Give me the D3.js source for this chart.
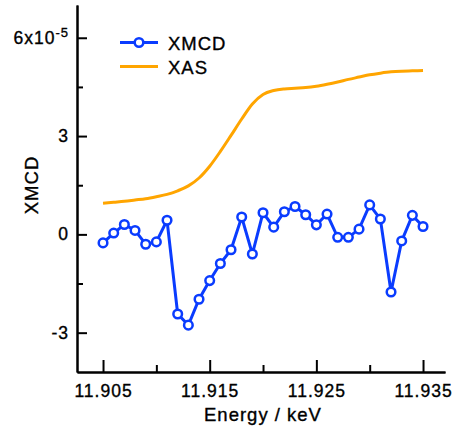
<!DOCTYPE html>
<html>
<head>
<meta charset="utf-8">
<script src="https://cdn.jsdelivr.net/npm/d3@7"></script>
<style>
  body { margin: 0; background: #fff; }
  #chart { width: 459px; height: 430px; }
  text { font-family: "Liberation Sans", Arial, sans-serif; fill: #000; stroke: #000; stroke-width: 0.35px; letter-spacing: 1px; }
</style>
</head>
<body>
<div id="chart"></div>
<script>
//Datos (XMCD en unidades de 1e-5)
const energy = [11.905, 11.906, 11.907, 11.908, 11.909, 11.910, 11.911, 11.912, 11.913, 11.914,
  11.915, 11.916, 11.917, 11.918, 11.919, 11.920, 11.921, 11.922, 11.923, 11.924,
  11.925, 11.926, 11.927, 11.928, 11.929, 11.930, 11.931, 11.932, 11.933, 11.934, 11.935];
const xmcd = [-0.26, 0.04, 0.30, 0.12, -0.30, -0.23, 0.43, -2.43, -2.77, -1.98,
  -1.41, -0.89, -0.47, 0.53, -0.60, 0.66, 0.22, 0.69, 0.85, 0.60,
  0.29, 0.62, -0.09, -0.09, 0.16, 0.90, 0.47, -1.76, -0.20, 0.58, 0.24];
const xas = [0.95, 0.98, 1.01, 1.05, 1.09, 1.15, 1.22, 1.33, 1.48, 1.72,
  2.08, 2.53, 3.02, 3.52, 3.98, 4.27, 4.39, 4.44, 4.46, 4.48,
  4.52, 4.58, 4.65, 4.73, 4.80, 4.87, 4.92, 4.96, 4.98, 4.99, 5.00];
const yTicks = [-3, 0, 3, 6];
const yMinorTicks = [-1.5, 1.5, 4.5];
const xTicks = [11.905, 11.915, 11.925, 11.935];
const xMinorTicks = [11.910, 11.920, 11.930];

const COLOR_XMCD = '#0a3cff', COLOR_XAS = '#ffa500';

let svg = d3.select('#chart').append('svg')
  .attr('width', 459).attr('height', 430);

let x = d3.scaleLinear().domain([11.90256, 11.93706]).range([77, 445]);
let y = d3.scaleLinear().domain([-4.2, 7]).range([372, 5]);

//Ejes
let gx = svg.append('g').attr('transform', 'translate(0,372)')
  .call(d3.axisBottom(x).tickValues(xTicks).tickSizeInner(-12).tickSizeOuter(0)
    .tickPadding(13).tickFormat(d3.format('.3f')));
svg.append('g').attr('transform', 'translate(0,372)')
  .call(d3.axisBottom(x).tickValues(xMinorTicks).tickSizeInner(-7).tickSizeOuter(0).tickFormat(''));

let gy = svg.append('g').attr('transform', 'translate(77,0)')
  .call(d3.axisLeft(y).tickValues(yTicks).tickSizeInner(-10).tickSizeOuter(0)
    .tickPadding(8).tickFormat(d => String(d)));
svg.append('g').attr('transform', 'translate(77,0)')
  .call(d3.axisLeft(y).tickValues(yMinorTicks).tickSizeInner(-6).tickSizeOuter(0).tickFormat(''));

svg.selectAll('.domain, .tick line').attr('stroke', '#000').attr('stroke-width', 2);
svg.selectAll('.tick text').style('font-size', '17.5px').attr('fill', '#000');

//Etiqueta 6x10^-5
gy.selectAll('.tick text').filter(d => d === 6).each(function() {
  let t = d3.select(this).text('');
  t.append('tspan').text('6x10');
  t.append('tspan').attr('dy', '-0.55em').style('font-size', '13px').text('-5');
});

//Títulos de ejes
svg.append('text').attr('x', 263).attr('y', 421).attr('text-anchor', 'middle')
  .style('font-size', '18.5px').text('Energy / keV');
svg.append('text').attr('transform', 'translate(38,185) rotate(-90)').attr('text-anchor', 'middle')
  .style('font-size', '18.5px').text('XMCD');

//Curvas
svg.append('path').datum(xas.map((v, i) => [energy[i], v]))
  .attr('fill', 'none').attr('stroke', COLOR_XAS).attr('stroke-width', 3)
  .attr('d', d3.line().x(d => x(d[0])).y(d => y(d[1])).curve(d3.curveMonotoneX));

let xmcdData = xmcd.map((v, i) => [energy[i], v]);
svg.append('path').datum(xmcdData)
  .attr('fill', 'none').attr('stroke', COLOR_XMCD).attr('stroke-width', 3)
  .attr('d', d3.line().x(d => x(d[0])).y(d => y(d[1])));
svg.selectAll('circle.pt').data(xmcdData).enter().append('circle').attr('class', 'pt')
  .attr('cx', d => x(d[0])).attr('cy', d => y(d[1])).attr('r', 4.3)
  .attr('fill', '#fff').attr('stroke', COLOR_XMCD).attr('stroke-width', 2.5);

//Leyenda
let leg = svg.append('g');
leg.append('line').attr('x1', 120).attr('x2', 158).attr('y1', 42.5).attr('y2', 42.5)
  .attr('stroke', COLOR_XMCD).attr('stroke-width', 3);
leg.append('circle').attr('cx', 139).attr('cy', 42.5).attr('r', 4.3)
  .attr('fill', '#fff').attr('stroke', COLOR_XMCD).attr('stroke-width', 2.5);
leg.append('text').attr('x', 168).attr('y', 49.5).style('font-size', '18.5px').text('XMCD');
leg.append('line').attr('x1', 120).attr('x2', 158).attr('y1', 66.5).attr('y2', 66.5)
  .attr('stroke', COLOR_XAS).attr('stroke-width', 3);
leg.append('text').attr('x', 168).attr('y', 73.5).style('font-size', '18.5px').text('XAS');
</script>
</body>
</html>
